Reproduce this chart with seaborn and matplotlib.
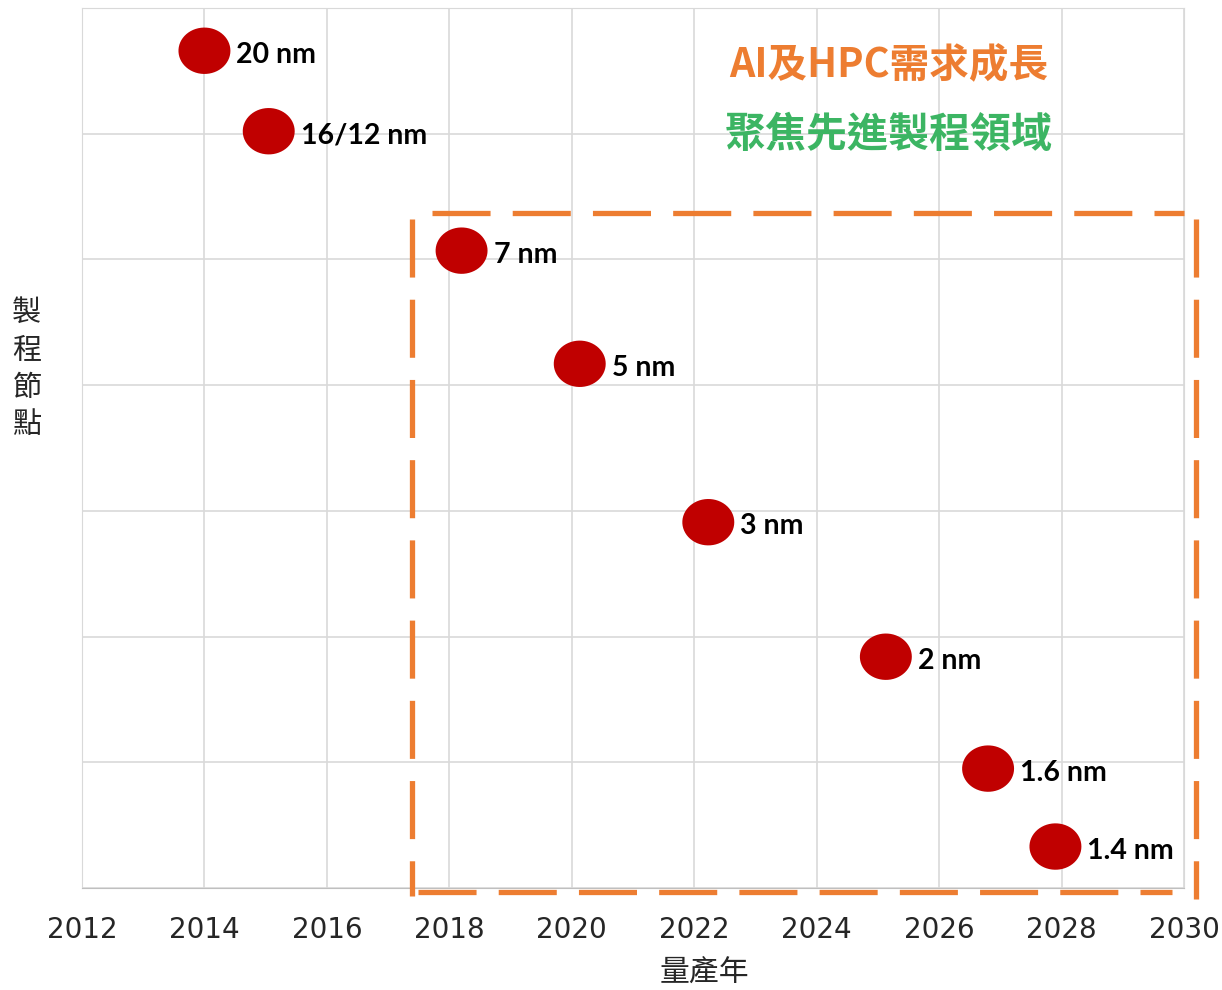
import numpy as np
import pandas as pd
import matplotlib
matplotlib.use("Agg")
import matplotlib.pyplot as plt
import seaborn as sns
from matplotlib.path import Path

# data
years = [2014.0, 2015.05, 2018.2, 2020.13, 2022.23, 2025.13, 2026.8, 2027.9]
levels = [6.66, 6.02, 5.07, 4.17, 2.91, 1.84, 0.95, 0.33]
nodes = ["20 nm", "16/12 nm", "7 nm", "5 nm", "3 nm", "2 nm", "1.6 nm", "1.4 nm"]
x_ticks = list(range(2012, 2031, 2))
title1 = "AI及HPC需求成長"
title2 = "聚焦先進製程領域"

# highlighted region (dashed box)
box_x0, box_x1 = 2017.39, 2030.2
box_y0, box_y1 = -0.03, 5.37

df = pd.DataFrame({"year": years, "level": levels, "node": nodes})

sns.set_style("white")
plt.rcParams['font.family'] = ['Noto Sans CJK TC', 'DejaVu Sans']

fig = plt.figure(figsize=(12.22, 9.9), dpi=100)
ax = fig.add_axes([0.0671, 0.1030, 0.9018, 0.8889])

# slightly wide ellipse marker
t = np.linspace(0, 2 * np.pi, 60)
ell = Path(np.column_stack([1.12 * np.cos(t), np.sin(t)]), closed=True)

sns.scatterplot(data=df, x="year", y="level", ax=ax, marker=ell, s=1400,
                color="#C00000", edgecolor="none", zorder=5, legend=False)

for _, r in df.iterrows():
    ax.annotate(r["node"], (r["year"], r["level"]), xytext=(23, -3),
                textcoords="offset points", ha="left", va="center",
                fontsize=20.5, fontweight="bold", family=["Lato", "DejaVu Sans"],
                color="black", zorder=6)

# dashed box
dash_kw = dict(color="#ED7D31", lw=3.8, dashes=(11, 4.2), solid_capstyle="butt",
               dash_capstyle="butt", clip_on=False, zorder=4)
ax.plot([box_x0 + 0.33, box_x1 - 0.2], [box_y1, box_y1], **dash_kw)
ax.plot([box_x0, box_x0], [box_y1 - 0.05, box_y0 - 0.03], **dash_kw)
ax.plot([box_x0 + 0.1, box_x1 - 0.4], [box_y0, box_y0], **dash_kw)
ax.plot([box_x1, box_x1], [box_y1 - 0.05, box_y0 - 0.06], **dash_kw)

ax.text(2025.17, 6.54, title1, color="#ED7D31", fontsize=28.5, fontweight="bold",
        ha="center", va="center")
ax.text(2025.17, 5.99, title2, color="#3CB563", fontsize=29.5, fontweight="bold",
        ha="center", va="center")

ax.set_xlim(2012, 2030)
ax.set_ylim(0, 7)
ax.set_xticks(x_ticks)
ax.set_yticks(range(0, 8))
ax.set_yticklabels([])
ax.tick_params(axis="x", labelsize=20, length=0, pad=20)
ax.tick_params(axis="y", length=0)
for lab in ax.get_xticklabels():
    lab.set_family("DejaVu Sans")
ax.grid(True, color="#D9D9D9", lw=1.2)
ax.set_axisbelow(True)
for side in ["top", "right", "left"]:
    ax.spines[side].set_color("#D9D9D9")
ax.spines["bottom"].set_color("#BFBFBF")

ax.set_xlabel("量產年", fontsize=21.5, va="center")
ax.xaxis.set_label_coords(0.565, -0.0955)
ax.set_ylabel("")
fig.text(0.022, 0.627, "製\n程\n節\n點", fontsize=21, ha="center", va="center",
         linespacing=1.32)

fig.savefig("out.png", dpi=100)
